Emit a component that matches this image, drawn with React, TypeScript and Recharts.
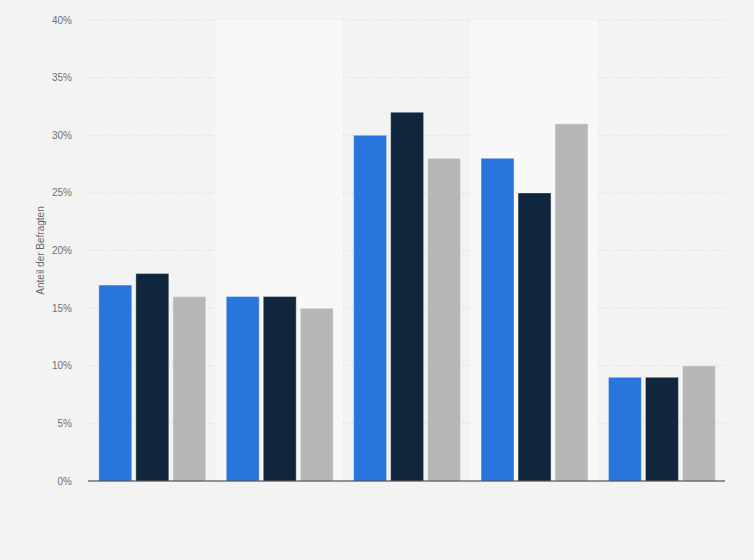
import React from 'react';
import { BarChart, Bar, XAxis, YAxis, CartesianGrid, ReferenceArea } from 'recharts';

const categories: string[] = ['A', 'B', 'C', 'D', 'E'];
const seriesBlue: number[] = [17, 16, 30, 28, 9];
const seriesDark: number[] = [18, 16, 32, 25, 9];
const seriesGray: number[] = [16, 15, 28, 31, 10];
const yTicks: number[] = [0, 5, 10, 15, 20, 25, 30, 35, 40];
const shadedCategories: string[] = ['B', 'D'];

const data = categories.map((name, i) => ({
    name,
    blue: seriesBlue[i],
    dark: seriesDark[i],
    gray: seriesGray[i],
}));

const App: React.FC = () => {
    return (
        <div
            style={{
                position: 'absolute',
                top: 0,
                left: 0,
                width: 754,
                height: 560,
                background: '#f3f3f3',
                fontFamily: 'Arial, "Liberation Sans", sans-serif',
            }}
        >
            <BarChart
                width={754}
                height={560}
                data={data}
                margin={{ top: 20, right: 29, bottom: 59, left: 0 }}
                barCategoryGap="8.5%"
                barGap={4}
            >
                {shadedCategories.map((c) => (
                    <ReferenceArea key={c} x1={c} x2={c} fill="#f8f8f8" fillOpacity={1} stroke="none" ifOverflow="visible" />
                ))}
                <CartesianGrid vertical={false} stroke="#d4d4d4" strokeDasharray="1 2" />
                <XAxis
                    dataKey="name"
                    tick={false}
                    tickLine={false}
                    axisLine={{ stroke: '#333', strokeWidth: 1 }}
                    height={20}
                />
                <YAxis
                    width={88}
                    domain={[0, 40]}
                    ticks={yTicks}
                    interval={0}
                    tickFormatter={(v: number) => `${v}%`}
                    axisLine={false}
                    tickLine={false}
                    tickSize={0}
                    tickMargin={16}
                    tick={{ fill: '#707070', fontSize: 10 }}
                    label={{
                        value: 'Anteil der Befragten',
                        angle: -90,
                        position: 'insideLeft',
                        offset: 40,
                        style: { fill: '#666', fontSize: 10, textAnchor: 'middle' },
                    }}
                />
                <Bar dataKey="blue" fill="#2876dd" stroke="#ffffff" strokeOpacity={0.4} isAnimationActive={false} />
                <Bar dataKey="dark" fill="#0f263d" stroke="#ffffff" strokeOpacity={0.4} isAnimationActive={false} />
                <Bar dataKey="gray" fill="#b7b7b7" stroke="#ffffff" strokeOpacity={0.4} isAnimationActive={false} />
            </BarChart>
        </div>
    );
};

export default App;
